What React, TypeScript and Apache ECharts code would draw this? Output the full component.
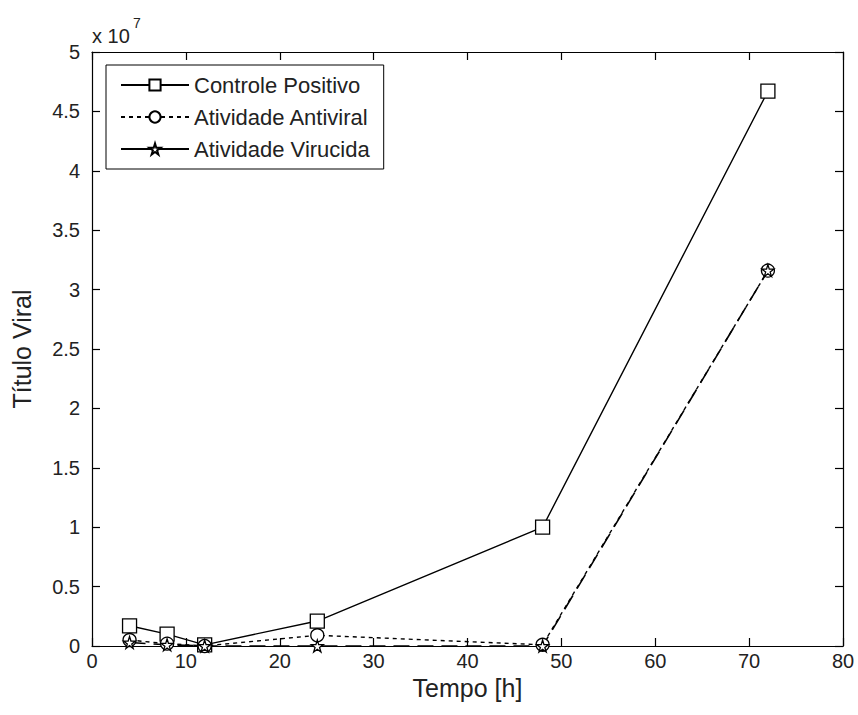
import React, { useEffect, useRef } from "react";
import * as echarts from "echarts";

const tempo = [4, 8, 12, 24, 48, 72];
const controlePositivo = [0.17, 0.1, 0.01, 0.21, 1.0, 4.67];
const atividadeAntiviral = [0.05, 0.02, 0.0, 0.09, 0.01, 3.16];
const atividadeVirucida = [0.03, 0.01, 0.0, 0.0, 0.0, 3.16];
const seriesNames = ["Controle Positivo", "Atividade Antiviral", "Atividade Virucida"];

const STAR =
  "path://M50,0 L61,35 L98,35 L68,57 L79,91 L50,70 L21,91 L32,57 L2,35 L39,35 Z";

export default function App() {
  const ref = useRef<HTMLDivElement>(null);
  useEffect(() => {
    if (!ref.current) return;
    const chart = echarts.init(ref.current, undefined, { renderer: "svg" });
    const font = "'Liberation Sans', Arial, sans-serif";
    const mk = (xs: number[], ys: number[]) => xs.map((x, i) => [x, ys[i]]);
    const common = {
      type: "line",
      color: "#000",
      showSymbol: true,
      symbolSize: 13,
      xAxisIndex: 0,
      yAxisIndex: 0,
      itemStyle: { color: "#fff", borderColor: "#000", borderWidth: 1.3 },
    };
    const tick = { show: true, inside: true, length: 8, lineStyle: { color: "#000", width: 1.2 } };
    const line = { show: true, onZero: false, lineStyle: { color: "#000", width: 1.2 } };
    chart.setOption({
      animation: false,
      backgroundColor: "#fff",
      textStyle: { fontFamily: font },
      grid: { left: 92, right: 15, top: 52, bottom: 69 },
      legend: {
        orient: "vertical",
        left: 106,
        top: 65,
        backgroundColor: "#fff",
        borderColor: "#000",
        borderWidth: 1,
        borderRadius: 0,
        padding: [9, 14, 9, 14],
        itemWidth: 68,
        itemHeight: 14,
        itemGap: 10,
        textStyle: { fontSize: 22, color: "#222", fontFamily: font },
        data: [
          { name: seriesNames[0] },
          { name: seriesNames[1] },
          { name: seriesNames[2], lineStyle: { type: "solid" } },
        ],
      },
      graphic: [
        {
          type: "text",
          left: 92,
          top: 26,
          style: { text: "x 10", fontSize: 20, fill: "#222", fontFamily: font },
        },
        {
          type: "text",
          left: 133,
          top: 16,
          style: { text: "7", fontSize: 14, fill: "#222", fontFamily: font },
        },
      ],
      xAxis: [
        {
          type: "value",
          min: 0,
          max: 80,
          interval: 10,
          name: "Tempo [h]",
          nameLocation: "middle",
          nameGap: 26,
          nameTextStyle: { fontSize: 25, color: "#222", fontFamily: font, verticalAlign: "top" },
          axisLine: line,
          axisTick: tick,
          axisLabel: { fontSize: 20, color: "#222", margin: 5, fontFamily: font },
          splitLine: { show: false },
        },
        {
          type: "value",
          position: "top",
          min: 0,
          max: 80,
          interval: 10,
          axisLine: line,
          axisTick: tick,
          axisLabel: { show: false },
          splitLine: { show: false },
        },
      ],
      yAxis: [
        {
          type: "value",
          min: 0,
          max: 5,
          interval: 0.5,
          name: "Título Viral",
          nameLocation: "middle",
          nameGap: 58,
          nameTextStyle: { fontSize: 25, color: "#222", fontFamily: font },
          axisLine: line,
          axisTick: tick,
          axisLabel: { fontSize: 20, color: "#222", margin: 12, fontFamily: font },
          splitLine: { show: false },
        },
        {
          type: "value",
          position: "right",
          min: 0,
          max: 5,
          interval: 0.5,
          axisLine: line,
          axisTick: tick,
          axisLabel: { show: false },
          splitLine: { show: false },
        },
      ],
      series: [
        {
          type: "line",
          name: "_frame",
          xAxisIndex: 1,
          yAxisIndex: 1,
          data: [[0, 0]],
          symbol: "none",
          silent: true,
          lineStyle: { opacity: 0 },
        },
        {
          ...common,
          name: seriesNames[0],
          symbol: "rect",
          symbolSize: 14,
          lineStyle: { color: "#000", width: 1.4, type: "solid" },
          data: mk(tempo, controlePositivo),
        },
        {
          ...common,
          name: seriesNames[1],
          symbol: "circle",
          lineStyle: { color: "#000", width: 1.4, type: [4, 4] },
          data: mk(tempo, atividadeAntiviral),
        },
        {
          ...common,
          name: seriesNames[2],
          symbol: STAR,
          symbolSize: 12,
          lineStyle: { color: "#000", width: 1.6, type: [16, 8] },
          data: mk(tempo, atividadeVirucida),
        },
      ],
    });
    return () => chart.dispose();
  }, []);
  return (
    <div
      ref={ref}
      style={{ position: "fixed", left: 0, top: 0, width: 858, height: 715 }}
    />
  );
}
